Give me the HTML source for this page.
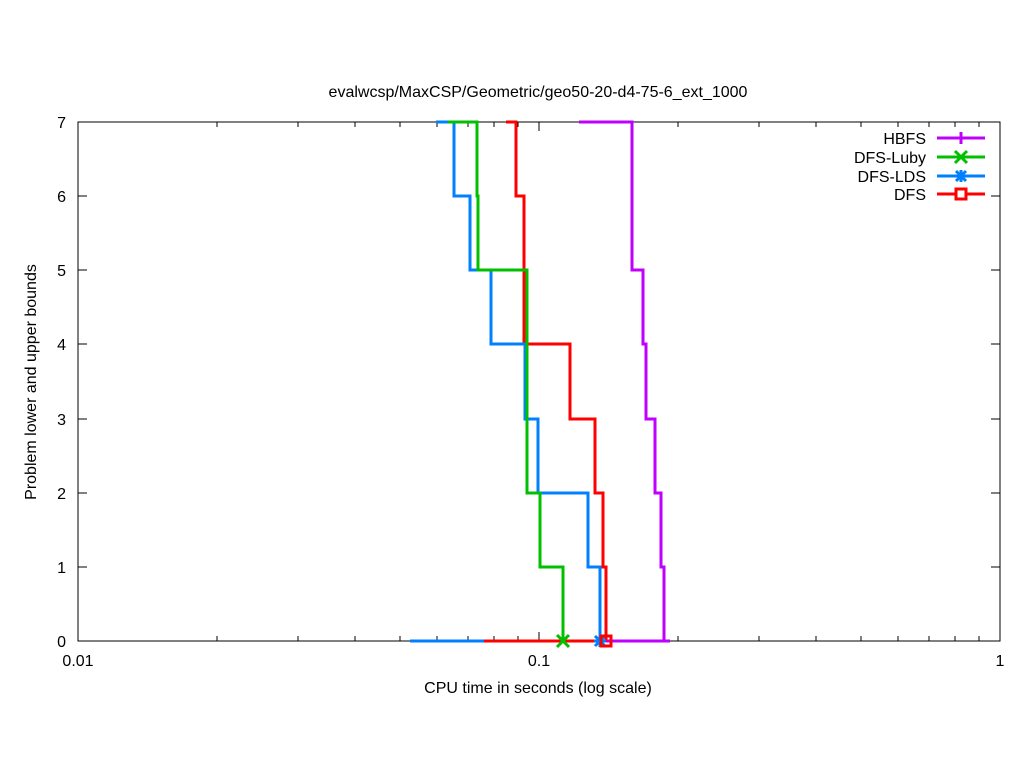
<!DOCTYPE html>
<html><head><meta charset="utf-8"><style>body{margin:0;background:#fff}svg{display:block}text{font-family:"Liberation Sans",sans-serif;font-size:16px;fill:#000}</style></head><body>
<svg width="1024" height="768" xmlns="http://www.w3.org/2000/svg">
<rect width="1024" height="768" fill="#fff"/>
<text x="538" y="97" text-anchor="middle">evalwcsp/MaxCSP/Geometric/geo50-20-d4-75-6_ext_1000</text>
<g stroke="#000" stroke-width="1" fill="none">
<rect x="78" y="122" width="922" height="519"/>
<path d="M78 641h9M78 567h9M78 493h9M78 419h9M78 344h9M78 270h9M78 196h9M1000 641h-9M1000 567h-9M1000 493h-9M1000 419h-9M1000 344h-9M1000 270h-9M1000 196h-9"/>
<path d="M78 641v-9M78 122v9M539 641v-9M539 122v9M1000 641v-9M1000 122v9"/>
<path d="M217 641v-5M298 641v-5M355 641v-5M400 641v-5M437 641v-5M468 641v-5M494 641v-5M518 641v-5M678 641v-5M759 641v-5M816 641v-5M861 641v-5M898 641v-5M929 641v-5M955 641v-5M979 641v-5"/>
<path d="M217 122v5M298 122v5M355 122v5M400 122v5M437 122v5M468 122v5M494 122v5M518 122v5M678 122v5M759 122v5M816 122v5M861 122v5M898 122v5M929 122v5M955 122v5M979 122v5"/>
</g>
<g text-anchor="end">
<text x="66" y="647">0</text><text x="66" y="573">1</text><text x="66" y="499">2</text><text x="66" y="425">3</text><text x="66" y="350">4</text><text x="66" y="276">5</text><text x="66" y="202">6</text><text x="66" y="128">7</text>
</g>
<g text-anchor="middle">
<text x="78" y="666">0.01</text><text x="539" y="666">0.1</text><text x="1000" y="666">1</text>
<text x="538" y="693">CPU time in seconds (log scale)</text>
</g>
<text transform="translate(36,382) rotate(-90)" text-anchor="middle">Problem lower and upper bounds</text>
<g fill="none" stroke-width="3">
<path stroke="#0080ff" d="M410 641H484"/>
<path stroke="#ff0000" d="M484 641H606"/>
<path stroke="#c000ff" d="M606 641H670"/>
<path stroke="#c000ff" d="M579 122H632V270H643V344H646V419H655V493H661V567H664V641"/>
<path stroke="#ff0000" d="M506 122H516V196H524V344H570V419H595V493H603V567H606V641"/>
<path stroke="#0080ff" d="M436 122H454V196H470V270H491V344H525V419H538V493H588V567H600V641"/>
<path stroke="#00c000" d="M448 122H477V196H478V270H527V493H540V567H563V641"/>
</g>
<g stroke-width="3" fill="none">
<path stroke="#00c000" d="M557 635l12 12M569 635l-12 12"/>
<path stroke="#0080ff" d="M595 636l10 10M605 636l-10 10M600 635v12M594 641h12"/>
<rect stroke="#ff0000" x="601" y="636" width="10" height="10"/>
</g>
<g text-anchor="end">
<text x="926" y="144">HBFS</text><text x="926" y="163">DFS-Luby</text><text x="926" y="182">DFS-LDS</text><text x="926" y="200">DFS</text>
</g>
<g stroke-width="3" fill="none">
<path stroke="#c000ff" d="M937 138H985M961 132v12"/>
<path stroke="#00c000" d="M937 157H985M955 151l12 12M967 151l-12 12"/>
<path stroke="#0080ff" d="M937 176H985M956 171l10 10M966 171l-10 10M961 170v12"/>
<path stroke="#ff0000" d="M937 194H985"/>
<rect stroke="#ff0000" x="956" y="189" width="10" height="10" fill="#fff"/>
</g>
</svg>
</body></html>
